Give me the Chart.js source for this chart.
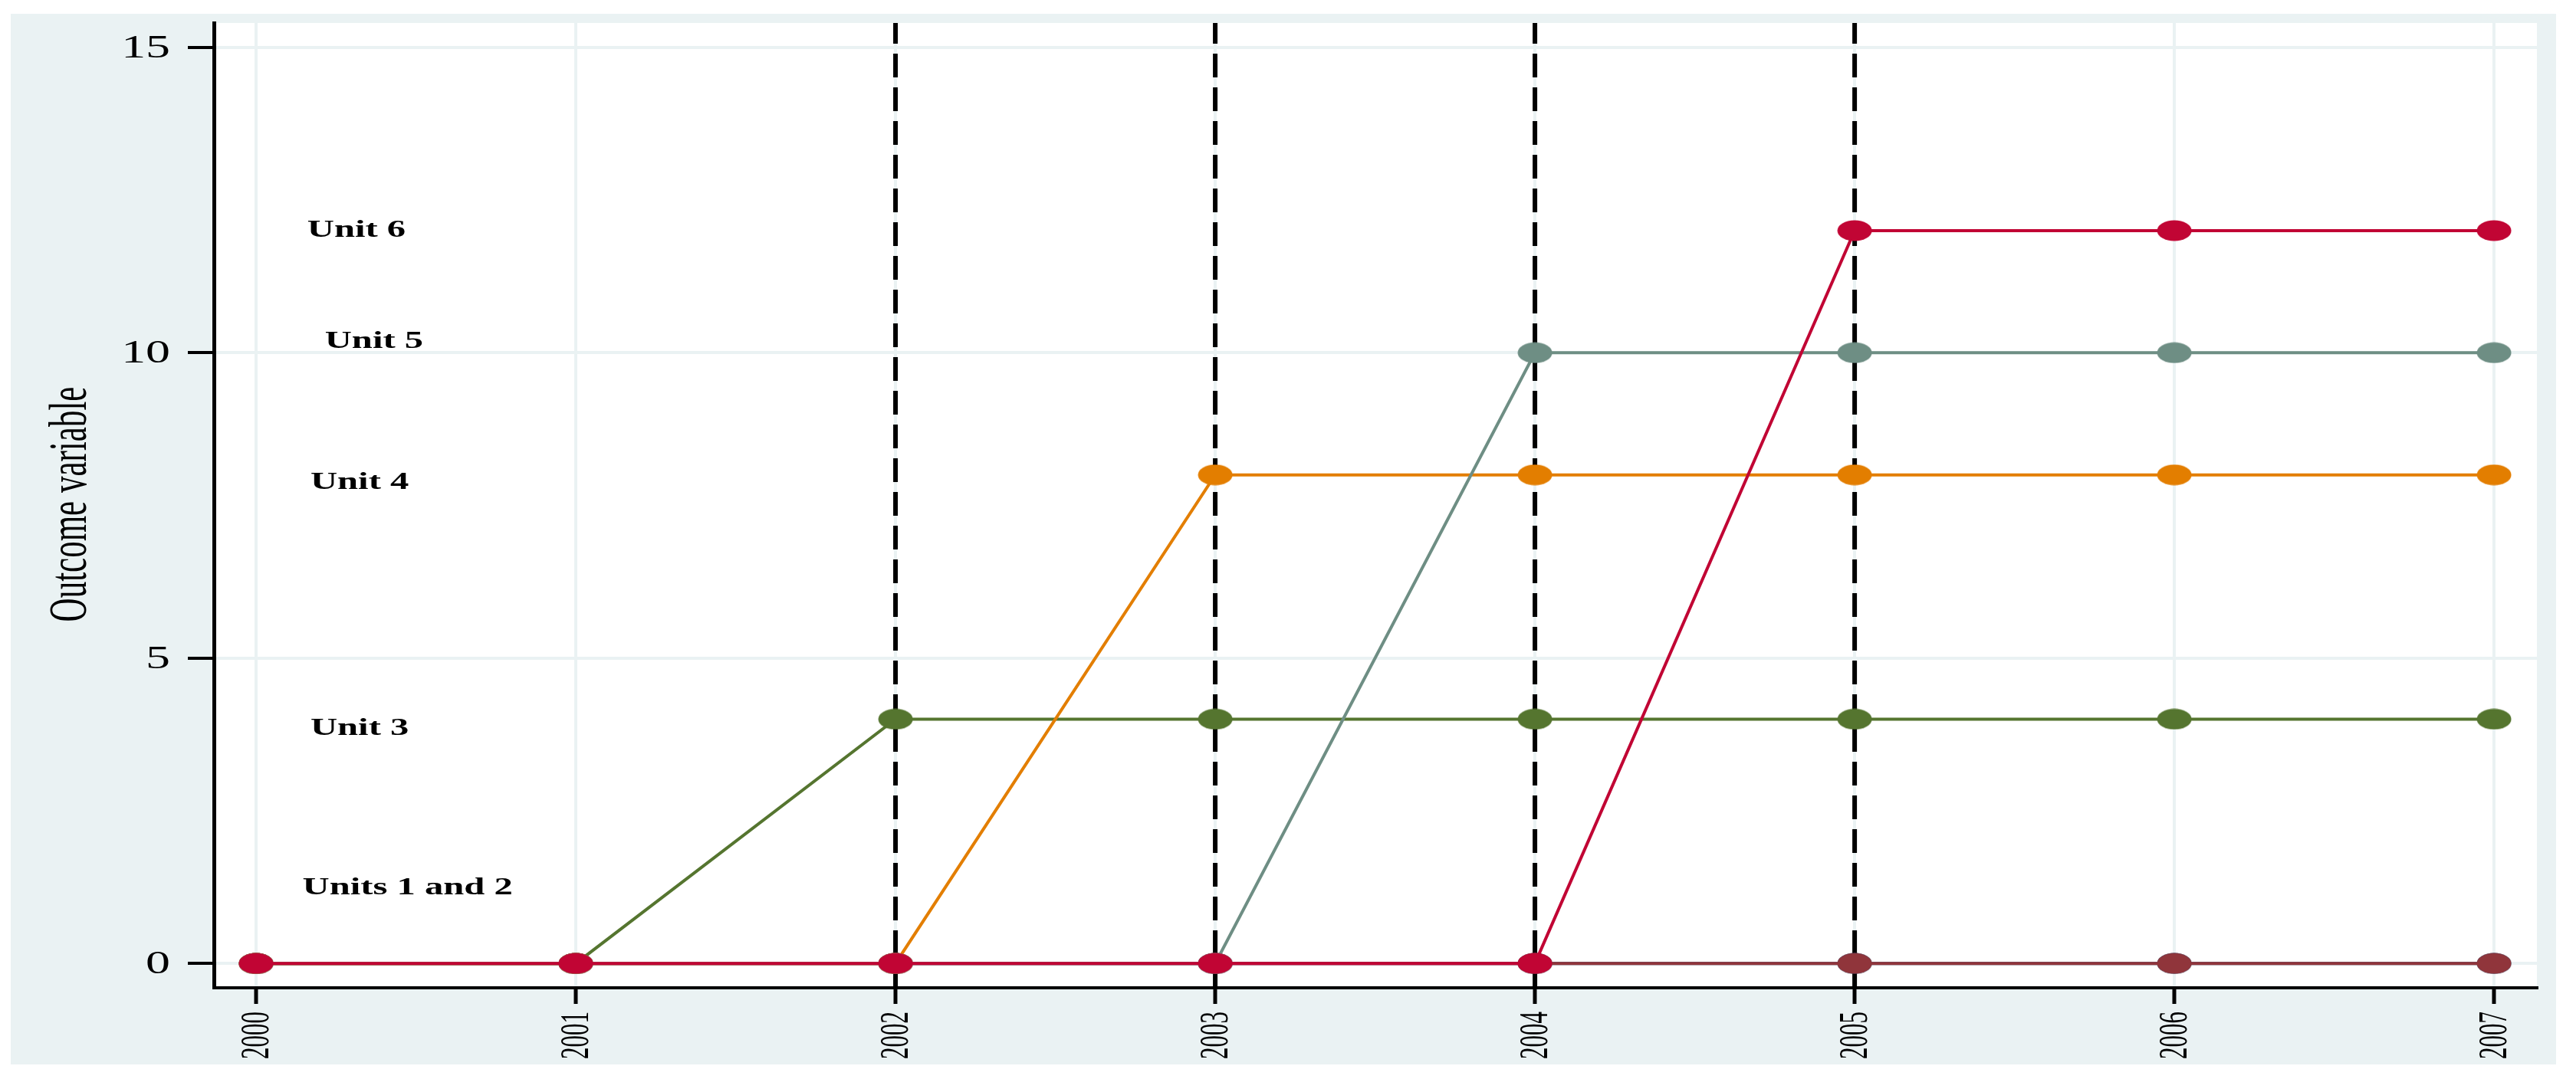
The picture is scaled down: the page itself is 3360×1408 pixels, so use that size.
<!DOCTYPE html>
<html>
<head>
<meta charset="utf-8">
<script src="https://cdn.jsdelivr.net/npm/chart.js@4.4.1/dist/chart.umd.min.js"></script>
<style>
  html, body { margin: 0; padding: 0; background: #ffffff; }
  canvas { display: block; }
</style>
</head>
<body>
<canvas id="unitChart" width="3360" height="1408"></canvas>
<script>
// values
const years = [2000, 2001, 2002, 2003, 2004, 2005, 2006, 2007];
const unit1 = [0, 0, 0, 0, 0, 0, 0, 0];
const unit2 = [0, 0, 0, 0, 0, 0, 0, 0];
const unit3 = [0, 0, 4, 4, 4, 4, 4, 4];
const unit4 = [0, 0, 0, 8, 8, 8, 8, 8];
const unit5 = [0, 0, 0, 0, 10, 10, 10, 10];
const unit6 = [0, 0, 0, 0, 0, 12, 12, 12];
const treatmentYears = [2002, 2003, 2004, 2005];
const yTicks = [0, 5, 10, 15];

const labelText = ["Unit 6", "Unit 5", "Unit 4", "Unit 3", "Units 1 and 2"];
const labelX = [2000.16, 2000.215, 2000.17, 2000.17, 2000.145];
const labelY = [12.0, 10.18, 7.87, 3.85, 1.24];

document.addEventListener("DOMContentLoaded", function () {
  const ctx = document.getElementById("unitChart").getContext("2d");
  const serif = '"Liberation Serif", "Times New Roman", serif';
  const stretch = 1.52; // the source graph is wider than tall, text looks stretched

  // stata-like oval markers
  function ovalMarker(color) {
    const c = document.createElement("canvas");
    c.width = 46;
    c.height = 28;
    const g = c.getContext("2d");
    g.fillStyle = color;
    g.beginPath();
    g.ellipse(23, 14, 22.5, 13.5, 0, 0, Math.PI * 2);
    g.fill();
    return c;
  }

  function series(label, values, color, order) {
    return {
      label: label,
      data: years.map((yr, i) => ({ x: yr, y: values[i] })),
      borderColor: color,
      borderWidth: 4,
      tension: 0,
      fill: false,
      pointStyle: ovalMarker(color),
      pointRadius: 14,
      order: order,
    };
  }

  const background = {
    id: "background",
    beforeDraw(chart) {
      const c = chart.ctx;
      const a = chart.chartArea;
      c.save();
      c.fillStyle = "#ffffff";
      c.fillRect(0, 0, chart.width, chart.height);
      c.fillStyle = "#EAF2F3";
      c.fillRect(14, 18, 3320, 1371);
      c.fillStyle = "#ffffff";
      c.fillRect(a.left, a.top, a.right - a.left, a.bottom - a.top);
      c.restore();
    },
  };

  const treatmentLines = {
    id: "treatmentLines",
    beforeDatasetsDraw(chart) {
      const c = chart.ctx;
      const a = chart.chartArea;
      const xs = chart.scales.x;
      c.save();
      c.strokeStyle = "#000000";
      c.lineWidth = 6;
      c.setLineDash([31, 13]);
      treatmentYears.forEach((yr) => {
        const px = xs.getPixelForValue(yr);
        c.beginPath();
        c.moveTo(px, a.bottom);
        c.lineTo(px, a.top);
        c.stroke();
      });
      c.restore();
    },
  };

  const texts = {
    id: "texts",
    afterDraw(chart) {
      const c = chart.ctx;
      const xs = chart.scales.x;
      const ys = chart.scales.y;
      c.save();
      c.fillStyle = "#000000";

      // y tick labels
      c.font = "42px " + serif;
      c.textAlign = "right";
      c.textBaseline = "middle";
      ys.ticks.forEach((t) => {
        c.save();
        c.translate(222, ys.getPixelForValue(t.value) + 2);
        c.scale(stretch, 1);
        c.fillText(String(t.value), 0, 0);
        c.restore();
      });

      // x tick labels, rotated
      c.font = "31px " + serif;
      xs.ticks.forEach((t) => {
        c.save();
        c.translate(xs.getPixelForValue(t.value) + 2, 1320);
        c.rotate(-Math.PI / 2);
        c.scale(1, 1.72);
        c.textAlign = "right";
        c.fillText(String(t.value), 0, 0);
        c.restore();
      });

      // axis title
      c.save();
      c.font = "43px " + serif;
      c.translate(112, 658);
      c.rotate(-Math.PI / 2);
      c.scale(1, 1.6);
      c.textAlign = "center";
      c.textBaseline = "alphabetic";
      c.fillText("Outcome variable", 0, 0);
      c.restore();

      // unit labels
      c.font = "bold 32px " + serif;
      c.textAlign = "left";
      c.textBaseline = "middle";
      labelText.forEach((txt, i) => {
        c.save();
        c.translate(xs.getPixelForValue(labelX[i]), ys.getPixelForValue(labelY[i]));
        c.scale(stretch, 1);
        c.fillText(txt, 0, 0);
        c.restore();
      });
      c.restore();
    },
  };

  new Chart(ctx, {
    type: "line",
    data: {
      datasets: [
        series("Unit 1", unit1, "#1A476F", 6),
        series("Unit 2", unit2, "#90353B", 5),
        series("Unit 3", unit3, "#55752F", 4),
        series("Unit 4", unit4, "#E37E00", 3),
        series("Unit 5", unit5, "#6E8E84", 2),
        series("Unit 6", unit6, "#C10534", 1),
      ],
    },
    options: {
      responsive: false,
      devicePixelRatio: 1,
      animation: false,
      layout: {
        padding: { top: 30, right: 51, left: 0, bottom: 0 },
      },
      scales: {
        x: {
          type: "linear",
          min: 1999.868,
          max: 2007.134,
          afterBuildTicks: (scale) => {
            scale.ticks = years.map((v) => ({ value: v }));
          },
          afterFit: (scale) => {
            scale.height = 119;
          },
          ticks: { display: false },
          grid: {
            color: "#EAF2F3",
            lineWidth: 4,
            drawTicks: true,
            tickLength: 21,
            tickColor: "#000000",
            tickWidth: 5,
          },
          border: { display: true, color: "#000000", width: 4 },
        },
        y: {
          min: -0.4,
          max: 15.4,
          afterBuildTicks: (scale) => {
            scale.ticks = yTicks.map((v) => ({ value: v }));
          },
          afterFit: (scale) => {
            scale.width = 279;
          },
          ticks: { display: false },
          grid: {
            color: "#EAF2F3",
            lineWidth: 4,
            drawTicks: true,
            tickLength: 34,
            tickColor: "#000000",
            tickWidth: 4,
          },
          border: { display: true, color: "#000000", width: 5 },
        },
      },
      plugins: {
        legend: { display: false },
        tooltip: { enabled: false },
      },
    },
    plugins: [background, treatmentLines, texts],
  });
});
</script>
</body>
</html>
